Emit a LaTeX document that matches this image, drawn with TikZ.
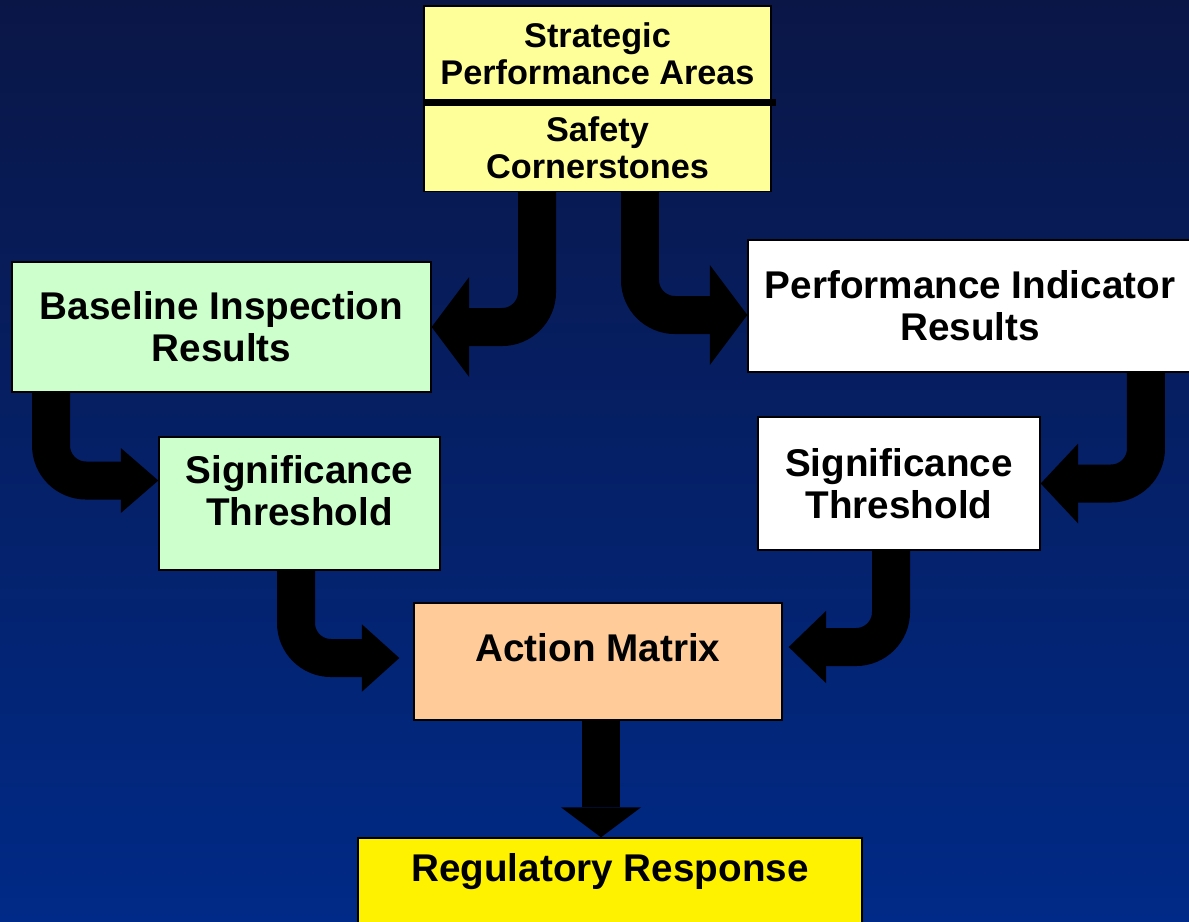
\documentclass[tikz,border=0pt]{standalone}
\usepackage{fontspec}
\setmainfont{Liberation Sans}
\usetikzlibrary{arrows.meta,positioning}

\definecolor{bgtop}{RGB}{10,22,70}
\definecolor{bgbottom}{RGB}{0,42,135}
\definecolor{paleyellow}{RGB}{255,255,153}
\definecolor{palegreen}{RGB}{204,255,204}
\definecolor{peach}{RGB}{255,204,153}

\begin{document}
\begin{tikzpicture}[x=0.02cm, y=-0.02cm,
		boxfont/.style={align=center, font=\bfseries\fontsize{22}{24}\selectfont},
		box/.style={rectangle, draw=black, line width=0.8pt, inner sep=0pt, boxfont},
		area/.style={box, fill=paleyellow, minimum width=6.94cm, font=\bfseries\fontsize{19.5}{21}\selectfont},
		inspection/.style={box, fill=palegreen},
		indicator/.style={box, fill=white},
		actionbox/.style={box, fill=peach},
		responsebox/.style={box, fill=yellow},
		flow/.style={line width=0.76cm, rounded corners=0.7cm, -{Triangle[length=0.75cm, width=#1, line width=0pt]}},
		flow/.default=1.5cm
	]
	\useasboundingbox (0,0) rectangle (1189,921);
	\shade[top color=bgtop, bottom color=bgbottom] (0,0) rectangle (1189,921);

	% Areas and cornerstones
	\node[area, minimum height=1.92cm] (spa) at (597.5,54) {Strategic\\Performance Areas};
	\node[area, minimum height=1.76cm, below=0cm of spa] (sc) {Safety\\Cornerstones};
	\draw[line width=0.14cm] (spa.south west) -- ([xshift=0.08cm]spa.south east);

	% Inspection side
	\node[inspection, minimum width=8.38cm, minimum height=2.6cm] (bir) at (221.5,327) {Baseline Inspection\\Results};
	\node[inspection, minimum width=5.62cm, minimum height=2.66cm,
		label={[boxfont, yshift=0.26cm]center:Significance\\Threshold}] (st1) at (299.5,503.5) {};

	% Indicator side
	\node[indicator, minimum width=8.88cm, minimum height=2.64cm] (pir) at (970,306) {Performance Indicator\\Results};
	\node[indicator, minimum width=5.64cm, minimum height=2.66cm] (st2) at (899,483.5) {Significance\\Threshold};

	% Action matrix and response
	\node[actionbox, minimum width=7.36cm, minimum height=2.34cm,
		label={[boxfont, yshift=0.28cm]center:Action Matrix}] (am) at (598,661.5) {};
	\node[responsebox, minimum width=10.08cm, minimum height=1.8cm,
		label={[boxfont, yshift=0.22cm]center:Regulatory Response}] (rr) at (610,883) {};

	% Arrows
	\draw[flow=2cm] ([xshift=-1.21cm]sc.south) |- (bir.east);
	\draw[flow=2cm] ([xshift=0.85cm]sc.south) |- ([yshift=-0.18cm]pir.west);
	\draw[flow=1.3cm] ([xshift=-3.41cm]bir.south) |- ([yshift=0.46cm]st1.west);
	\draw[flow=1.35cm, shorten >=0.28cm] ([xshift=-0.07cm]st1.south) |- ([yshift=0.07cm]am.west);
	\draw[flow=1.6cm] ([xshift=3.52cm]pir.south) |- (st2.east);
	\draw[flow=1.45cm, shorten >=0.12cm] ([xshift=-0.16cm]st2.south) |- ([yshift=0.29cm]am.east);
	\draw[line width=0.76cm, -{Triangle[length=0.6cm, width=1.6cm, line width=0pt]}] ([xshift=0.06cm]am.south) -- ([xshift=0.06cm]am.south |- rr.north);

\end{tikzpicture}
\end{document}
